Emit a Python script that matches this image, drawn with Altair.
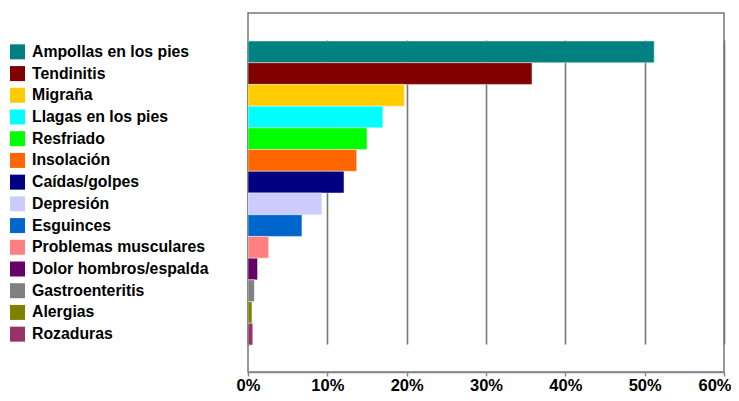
import altair as alt
import pandas as pd

categories = ["Ampollas en los pies", "Tendinitis", "Migraña", "Llagas en los pies",
              "Resfriado", "Insolación", "Caídas/golpes", "Depresión", "Esguinces",
              "Problemas musculares", "Dolor hombros/espalda", "Gastroenteritis",
              "Alergias", "Rozaduras"]
values = [0.512, 0.358, 0.197, 0.170, 0.150, 0.137, 0.121, 0.093, 0.068,
          0.026, 0.012, 0.008, 0.005, 0.006]
colors = ["#008080", "#800000", "#FFCC00", "#00FFFF", "#00FF00", "#FF6600",
          "#000080", "#CCCCFF", "#0066CC", "#FF8080", "#660066", "#808080",
          "#808000", "#993366"]
ticks = [0, 0.1, 0.2, 0.3, 0.4, 0.5, 0.6]

df = pd.DataFrame({"cat": categories, "val": values, "color": colors})

FONT = "Liberation Sans"
yscale = alt.Scale(paddingInner=0, paddingOuter=0, range=[28, 332])
yenc = alt.Y("cat:N", sort=categories, scale=yscale,
             axis=alt.Axis(labels=False, ticks=False, title=None, domainColor="#000000",
                           domainWidth=1.5, grid=False))

bars = alt.Chart(df).mark_bar(stroke="#e8f4f4", strokeWidth=0.5).encode(
    x=alt.X("val:Q", scale=alt.Scale(domain=[0, 0.6], nice=False),
            axis=alt.Axis(values=ticks, format=".0%", title=None, grid=True,
                          gridColor="#777777", gridWidth=1.6, domainColor="#888888",
                          domainWidth=1.5, tickColor="#888888", tickSize=4, tickWidth=1.5,
                          labelFont=FONT, labelFontSize=16.5, labelFontWeight="bold",
                          labelColor="#000000", labelPadding=1, labelBaseline="top",
                          labelFlush=False,
                          labelAlign=alt.expr("datum.value >= 0.59 ? 'right' : 'center'"),
                          labelOffset=alt.expr("datum.value >= 0.59 ? 7 : 0"))),
    y=yenc,
    color=alt.Color("color:N", scale=None),
)

squares = alt.Chart(df).mark_point(shape="square", filled=True, size=225, opacity=1).encode(
    x=alt.value(-230.5),
    y=alt.Y("cat:N", sort=categories),
    color=alt.Color("color:N", scale=None),
)

labels = alt.Chart(df).mark_text(align="left", baseline="middle", font=FONT, fontSize=15.8,
                                 fontWeight="bold", color="#000000").encode(
    x=alt.value(-216),
    y=alt.Y("cat:N", sort=categories),
    text="cat:N",
)

chart = alt.layer(bars, squares, labels).properties(
    width=476, height=359,
    autosize=alt.AutoSizeParams(type="none"),
    padding={"left": 240, "top": 5, "right": 7, "bottom": 21},
).configure_view(stroke="#777777", strokeWidth=1.5)

chart.save("out.html", embed_options={"renderer": "svg", "actions": False})
